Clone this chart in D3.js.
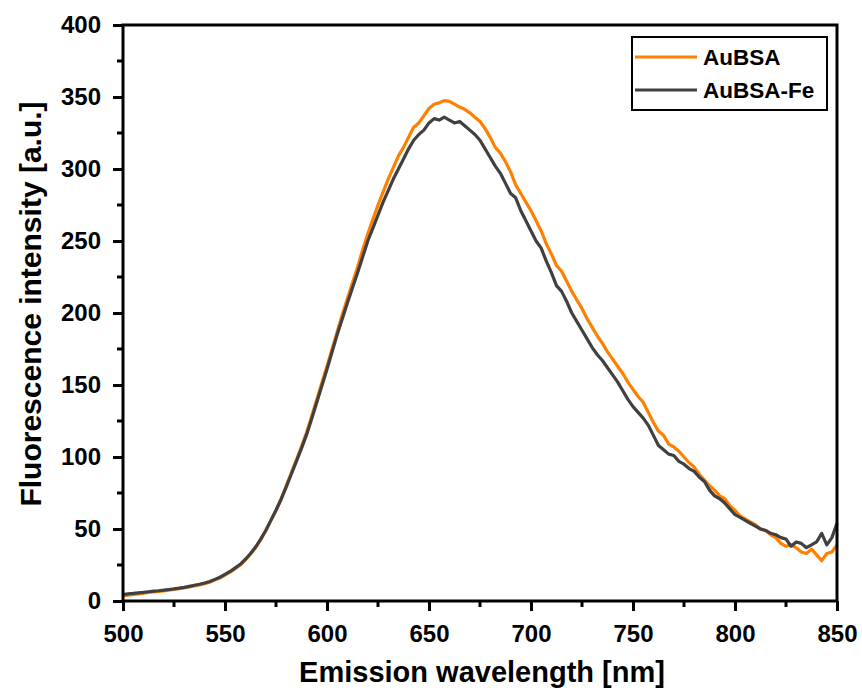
<!DOCTYPE html>
<html>
<head>
<meta charset="utf-8">
<script src="https://cdn.jsdelivr.net/npm/d3@7"></script>
<style>
  body { margin: 0; background: #fff; }
  svg text { font-family: "Liberation Sans", Arial, sans-serif; font-weight: bold; }
</style>
</head>
<body>
<script>
window.document.addEventListener('DOMContentLoaded', init, false);

var width = 862;
var height = 690;
var margin = {top: 25, right: 25, bottom: 89, left: 123};

// wavelength grid, 2.5 nm step
var wavelength = d3.range(500, 850.01, 2.5);

var seriesNames = ['AuBSA', 'AuBSA-Fe'];
var seriesColors = ['#ff8000', '#404040'];

var auBSA = [
    3.5, 4, 4.5, 5, 5.5, 6, 6.3, 6.7, 7, 7.5, 8, 8.5, 9, 9.8, 10.5, 11.2,
    12, 13, 14.5, 16, 18, 20, 22.5, 25, 28.5, 32.5, 37, 42.5, 49, 56, 63, 71,
    80, 89, 98, 107.5, 117, 128.5, 140, 151.5, 163, 175, 187, 199, 210, 221, 232, 244,
    255, 265, 275, 284, 293, 301, 309, 315, 322, 329, 332, 337, 342, 345, 346, 347.5,
    347, 345, 343, 341.5, 339, 336, 333, 328, 322, 315, 311, 305, 298, 289, 283, 277,
    271, 264, 257, 248, 241, 233, 229, 222, 215, 209, 203, 196, 190, 184, 179, 173,
    168, 163, 158, 152, 147, 142, 138, 131, 124, 118, 115, 109, 107, 104, 100, 96,
    93, 88, 84, 80, 77, 73, 71, 66, 63, 59, 57, 55, 53, 50, 49, 46,
    44, 40, 38, 39, 37, 34, 33, 36, 32, 28, 33, 34, 39
];

var auBSAFe = [
    4.5, 5, 5.3, 5.7, 6, 6.4, 6.8, 7.1, 7.5, 8, 8.4, 8.9, 9.5, 10.2, 10.9, 11.6,
    12.5, 13.5, 15, 16.5, 18.5, 20.5, 23, 25.5, 29, 33, 37.5, 43, 49, 56, 63, 70.5,
    79, 88, 97, 106, 115.5, 126.5, 138, 149.5, 161, 173, 185, 196, 207, 217.5, 228, 239,
    250, 259, 268, 277, 285, 293, 300, 307, 314, 320, 324, 327, 332, 335, 334, 336,
    334, 332, 333, 330, 327, 324, 320, 314, 308, 302, 297, 290, 283, 280, 271, 264,
    257, 250, 245, 236, 228, 219, 215, 208, 200, 194, 188, 182, 176, 171, 167, 162,
    157, 152, 146, 140, 135, 131, 127, 122, 115, 108, 105, 102, 101, 97, 95, 92,
    90, 86, 83, 77, 73, 71, 68, 64, 60, 58, 56, 54, 52, 50, 49, 47,
    46, 44, 43, 38, 41, 40, 37, 39, 41, 47, 39, 44, 54
];

var xTicks = [500, 550, 600, 650, 700, 750, 800, 850];
var yTicks = [0, 50, 100, 150, 200, 250, 300, 350, 400];

var svg, x, y;

function init() {
    svg = d3.select('body').append('svg')
        .attr('width', width)
        .attr('height', height);

    x = d3.scaleLinear().domain([500, 850]).range([margin.left, width - margin.right]);
    y = d3.scaleLinear().domain([0, 400]).range([height - margin.bottom, margin.top]);

    drawLines();
    drawAxes();
    drawLegend();
}

function drawLines() {
    var line = d3.line()
        .x(function(d) { return x(d[0]); })
        .y(function(d) { return y(d[1]); });

    [auBSA, auBSAFe].forEach(function(vals, i) {
        var pts = wavelength.map(function(w, j) { return [w, vals[j]]; });
        svg.append('path')
            .datum(pts)
            .attr('fill', 'none')
            .attr('stroke', seriesColors[i])
            .attr('stroke-width', 3.2)
            .attr('stroke-linejoin', 'round')
            .attr('d', line);
    });
}

function drawAxes() {
    var x0 = margin.left, x1 = width - margin.right;
    var y0 = height - margin.bottom, y1 = margin.top;

    // frame (top + right without ticks)
    svg.append('rect')
        .attr('x', x0).attr('y', y1)
        .attr('width', x1 - x0).attr('height', y0 - y1)
        .attr('fill', 'none').attr('stroke', '#000').attr('stroke-width', 3);

    var minorX = d3.range(525, 850, 50);
    var minorY = d3.range(25, 400, 50);

    var xAxis = d3.axisBottom(x).tickValues(xTicks).tickSize(10).tickPadding(14)
        .tickFormat(d3.format('d'));
    var gx = svg.append('g').attr('transform', 'translate(0,' + y0 + ')').call(xAxis);
    gx.select('.domain').remove();
    gx.selectAll('line').attr('stroke-width', 3);
    gx.selectAll('text').attr('font-size', 24).attr('fill', '#000');
    gx.selectAll('.minor').data(minorX).enter().append('line')
        .attr('x1', function(d) { return x(d); }).attr('x2', function(d) { return x(d); })
        .attr('y1', 0).attr('y2', 6)
        .attr('stroke', '#000').attr('stroke-width', 3);

    var yAxis = d3.axisLeft(y).tickValues(yTicks).tickSize(10).tickPadding(12);
    var gy = svg.append('g').attr('transform', 'translate(' + x0 + ',0)').call(yAxis);
    gy.select('.domain').remove();
    gy.selectAll('line').attr('stroke-width', 3);
    gy.selectAll('text').attr('font-size', 24).attr('fill', '#000');
    gy.selectAll('.minor').data(minorY).enter().append('line')
        .attr('y1', function(d) { return y(d); }).attr('y2', function(d) { return y(d); })
        .attr('x1', 0).attr('x2', -6)
        .attr('stroke', '#000').attr('stroke-width', 3);

    svg.append('text')
        .attr('x', (x0 + x1) / 2 + 2).attr('y', 682)
        .attr('text-anchor', 'middle')
        .attr('font-size', 29)
        .text('Emission wavelength [nm]');

    svg.append('text')
        .attr('transform', 'translate(41,304) rotate(-90)')
        .attr('text-anchor', 'middle')
        .attr('font-size', 30)
        .text('Fluorescence intensity [a.u.]');
}

function drawLegend() {
    var g = svg.append('g').attr('transform', 'translate(632,37)');
    g.append('rect')
        .attr('width', 195).attr('height', 73)
        .attr('fill', '#fff').attr('stroke', '#000').attr('stroke-width', 2);

    seriesNames.forEach(function(name, i) {
        var yy = 20 + i * 33;
        g.append('line')
            .attr('x1', 3).attr('x2', 65).attr('y1', yy).attr('y2', yy)
            .attr('stroke', seriesColors[i]).attr('stroke-width', 3.2);
        g.append('text')
            .attr('x', 71).attr('y', yy + 8)
            .attr('font-size', 22.5)
            .text(name);
    });
}
</script>
</body>
</html>
